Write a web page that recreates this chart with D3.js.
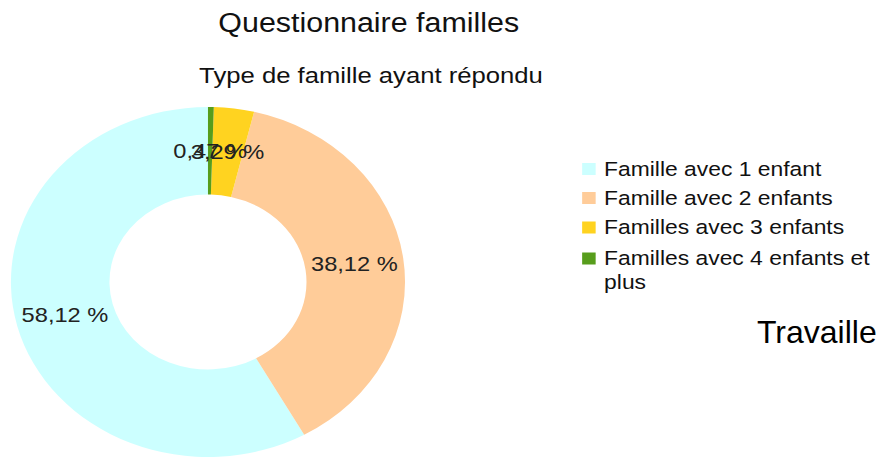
<!DOCTYPE html>
<html>
<head>
<meta charset="utf-8">
<script src="https://cdn.jsdelivr.net/npm/d3@7"></script>
<style>
  body { margin: 0; background: #fff; }
  svg { display: block; font-family: "Liberation Sans", Arial, sans-serif; }
</style>
</head>
<body>
<div id="chart"></div>
<script>
const width = 883;
const height = 459;

// chart data
const categories = ["Famille avec 1 enfant", "Famille avec 2 enfants", "Familles avec 3 enfants", "Familles avec 4 enfants et plus"];
const legendLines = [["Famille avec 1 enfant"], ["Famille avec 2 enfants"], ["Familles avec 3 enfants"], ["Familles avec 4 enfants et", "plus"]];
const values = [58.12, 38.12, 3.29, 0.47];
const colors = ["#ccffff", "#ffcc99", "#ffd320", "#579d1c"];
const labels = ["58,12 %", "38,12 %", "3,29 %", "0,47 %"];

// the original picture is a bit stretched horizontally
const sx = 1.126;

const svg = d3.select("#chart")
    .append("svg")
    .attr("width", width)
    .attr("height", height);

const g = svg.append("g").attr("transform", `scale(${sx},1)`);

g.append("text")
    .attr("x", 327.5)
    .attr("y", 32)
    .attr("text-anchor", "middle")
    .attr("font-size", 27)
    .attr("fill", "#111")
    .text("Questionnaire familles");

g.append("text")
    .attr("x", 329.5)
    .attr("y", 83)
    .attr("text-anchor", "middle")
    .attr("font-size", 22.8)
    .attr("fill", "#111")
    .text("Type de famille ayant répondu");

const outerR = 175;
const innerR = 87.5;
const cx = 184.7;
const cy = 282;

const pie = d3.pie()
    .sort(null)
    .startAngle(0)
    .endAngle(-2 * Math.PI)
    .value(d => d);

const arc = d3.arc().innerRadius(innerR).outerRadius(outerR);

const arcs = pie(values);

const donut = g.append("g").attr("transform", `translate(${cx},${cy})`);

donut.selectAll("path")
    .data(arcs)
    .join("path")
    .attr("d", arc)
    .attr("fill", (d, i) => colors[i]);

donut.selectAll("text")
    .data(arcs)
    .join("text")
    .attr("transform", d => `translate(${arc.centroid(d)})`)
    .attr("text-anchor", "middle")
    .attr("dy", "0.35em")
    .attr("font-size", 21)
    .attr("fill", "#222")
    .text((d, i) => labels[i]);

// legend
const legendY = [176, 205, 234.5, 265.5];
const legend = g.append("g");

legend.selectAll("rect")
    .data(categories)
    .join("rect")
    .attr("x", 517)
    .attr("y", (d, i) => legendY[i] - 13)
    .attr("width", 12)
    .attr("height", 12)
    .attr("fill", (d, i) => colors[i]);

legend.selectAll("text")
    .data(legendLines)
    .join("text")
    .attr("x", 536.5)
    .attr("y", (d, i) => legendY[i])
    .attr("font-size", 20.3)
    .attr("fill", "#111")
    .each(function(lines) {
        d3.select(this).selectAll("tspan")
            .data(lines)
            .join("tspan")
            .attr("x", 536.5)
            .attr("dy", (l, j) => j === 0 ? 0 : 23.5)
            .text(l => l);
    });

svg.append("text")
    .attr("x", 757)
    .attr("y", 342.5)
    .attr("font-size", 32)
    .attr("fill", "#000")
    .text("Travaille");
</script>
</body>
</html>
